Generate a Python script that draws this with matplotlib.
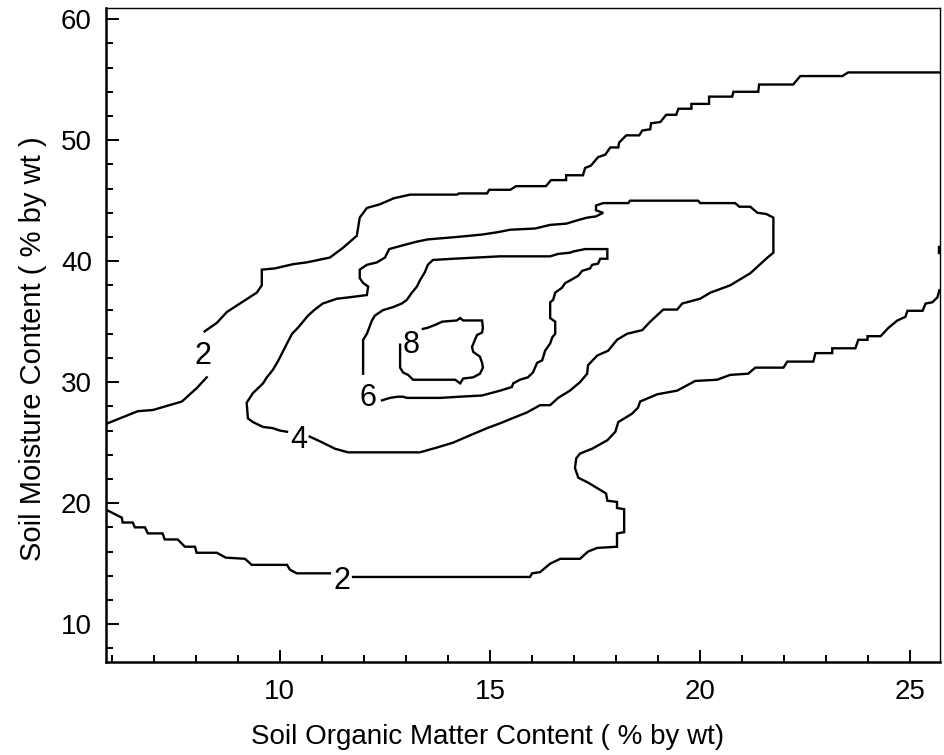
import numpy as np
import matplotlib.pyplot as plt
from matplotlib.ticker import MultipleLocator

plt.rcParams['font.family'] = ['Liberation Sans', 'DejaVu Sans']

# contour level 2, upper branch, left of the label
c2a_x = [5.9, 6.62, 6.98, 7.67, 8.02, 8.26]
c2a_y = [26.6, 27.6, 27.7, 28.4, 29.5, 30.4]
# contour level 2, upper branch, right of the label
c2b_x = [8.21, 8.5, 8.74, 9.05, 9.45, 9.57, 9.57, 9.88, 10.31, 10.64,
         11.19, 11.5, 11.83, 11.9, 12.07, 12.38, 12.71, 13.1, 14.21, 14.26,
         14.93, 14.98, 15.48, 15.62, 16.33, 16.45, 16.81, 16.81, 17.21, 17.26,
         17.4, 17.57, 17.74, 17.86, 18.05, 18.07, 18.24, 18.55, 18.62, 18.81,
         18.83, 19.05, 19.19, 19.43, 19.48, 19.79, 19.79, 20.21, 20.21, 20.76,
         20.79, 21.38, 21.4, 22.21, 22.38, 23.38, 23.52, 25.71]
c2b_y = [34.2, 34.9, 35.8, 36.5, 37.4, 38.0, 39.3, 39.4, 39.75, 39.9,
         40.3, 41.1, 42.1, 43.6, 44.4, 44.7, 45.2, 45.5, 45.5, 45.6,
         45.6, 45.9, 45.9, 46.2, 46.2, 46.7, 46.7, 47.1, 47.1, 47.7,
         47.9, 48.6, 48.8, 49.4, 49.4, 49.8, 50.4, 50.4, 50.8, 50.9,
         51.4, 51.5, 52.1, 52.1, 52.6, 52.6, 53.0, 53.0, 53.6, 53.6,
         54.0, 54.0, 54.6, 54.6, 55.3, 55.3, 55.6, 55.6]
# contour level 2, lower branch, left of the label
c2c_x = [5.9, 6.24, 6.26, 6.5, 6.55, 6.79, 6.86, 7.21, 7.26, 7.57, 7.74,
         7.98, 8.02, 8.5, 8.71, 9.17, 9.33, 10.17, 10.24, 10.4, 11.19]
c2c_y = [19.4, 18.8, 18.4, 18.4, 18.0, 18.0, 17.5, 17.5, 17.0, 17.0, 16.4,
         16.4, 15.9, 15.9, 15.5, 15.4, 14.9, 14.9, 14.5, 14.2, 14.2]
# contour level 2, lower branch, right of the label
c2d_x = [11.74, 15.95, 16.0, 16.19, 16.43, 16.67, 17.14, 17.33, 17.55, 18.02,
         18.02, 18.19, 18.19, 18.02, 18.02, 17.79, 17.76, 17.57, 17.33, 17.1,
         17.02, 17.05, 17.14, 17.43, 17.79, 17.98, 18.05, 18.38, 18.52, 18.57,
         18.98, 19.45, 19.88, 20.4, 20.71, 21.14, 21.31, 21.98, 22.07, 22.69,
         22.74, 23.14, 23.14, 23.69, 23.76, 23.98, 23.98, 24.29, 24.48, 24.69,
         24.88, 24.93, 25.29, 25.36, 25.52, 25.64, 25.69]
c2d_y = [13.9, 13.9, 14.2, 14.3, 15.0, 15.4, 15.4, 16.0, 16.3, 16.4,
         17.5, 17.6, 19.5, 19.6, 20.1, 20.2, 20.8, 21.2, 21.7, 22.1,
         22.9, 23.7, 24.1, 24.5, 25.2, 25.9, 26.7, 27.4, 27.9, 28.4,
         29.0, 29.3, 30.1, 30.2, 30.6, 30.7, 31.2, 31.2, 31.7, 31.7,
         32.4, 32.4, 32.8, 32.8, 33.5, 33.5, 33.8, 33.8, 34.5, 35.1,
         35.4, 35.9, 35.9, 36.5, 36.6, 37.0, 37.6]
# short piece touching the right edge
c2e_x = [25.67, 25.67]
c2e_y = [40.7, 41.2]

# contour level 4
c4_x = [10.71, 11.02, 11.31, 11.62, 13.33, 13.74, 14.12, 14.52, 14.93, 15.24,
        15.52, 15.88, 16.19, 16.43, 16.62, 16.9, 17.14, 17.31, 17.33, 17.55,
        17.81, 18.02, 18.26, 18.62, 18.81, 19.12, 19.45, 19.57, 20.0, 20.24,
        20.71, 21.19, 21.6, 21.74, 21.74,
        21.57, 21.36, 21.19, 20.93, 20.83, 20.0, 19.95, 18.33, 18.29, 17.69,
        17.52, 17.52, 17.69, 17.52, 17.31, 17.1, 16.81, 16.43, 16.07, 15.48,
        15.19, 14.81, 14.21, 13.52, 13.24, 12.81, 12.6, 12.5, 12.31, 12.07,
        11.9, 11.9, 11.98, 12.1, 12.07, 11.62, 11.36, 11.02, 10.83, 10.67,
        10.43, 10.29, 10.17, 9.95, 9.83, 9.69, 9.6, 9.36, 9.21, 9.24,
        9.36, 9.6, 9.83, 10.0, 10.17]
c4_y = [25.5, 25.0, 24.5, 24.2, 24.2, 24.6, 25.0, 25.6, 26.2, 26.6,
        27.0, 27.5, 28.1, 28.1, 28.7, 29.3, 30.0, 30.7, 31.4, 32.2,
        32.6, 33.5, 34.0, 34.3, 35.0, 36.0, 36.0, 36.5, 36.9, 37.4,
        38.0, 39.0, 40.3, 40.7, 43.6,
        43.9, 44.0, 44.5, 44.5, 44.8, 44.8, 45.0, 45.0, 44.8, 44.8,
        44.6, 44.2, 44.0, 43.7, 43.6, 43.4, 43.1, 43.0, 42.7, 42.6,
        42.4, 42.2, 42.0, 41.8, 41.6, 41.2, 41.0, 40.3, 39.9, 39.7,
        39.3, 38.6, 38.2, 37.9, 37.2, 37.0, 36.9, 36.5, 36.0, 35.5,
        34.5, 34.0, 33.2, 31.7, 31.0, 30.4, 29.9, 29.1, 28.3, 27.0,
        26.7, 26.3, 26.2, 26.0, 25.9]

# contour level 6
c6_x = [11.98, 11.98, 12.07, 12.19, 12.26, 12.45, 12.69, 12.9, 13.02, 13.14,
        13.26, 13.33, 13.45, 13.52, 13.64, 14.12, 15.24, 16.43, 16.62, 16.9,
        16.98, 17.26, 17.79, 17.79, 17.62, 17.57, 17.43, 17.38, 17.19, 17.1,
        16.9, 16.79, 16.71, 16.55, 16.5, 16.43, 16.43, 16.55, 16.55, 16.48,
        16.43, 16.31, 16.24, 16.12, 16.02, 15.9, 15.71, 15.55, 15.52, 15.24,
        14.81, 14.29, 13.81, 13.02, 12.93, 12.81, 12.62, 12.43]
c6_y = [30.7, 33.5, 34.0, 35.1, 35.5, 35.95, 36.2, 36.5, 36.8, 37.4,
        37.9, 38.4, 39.1, 39.7, 40.1, 40.2, 40.4, 40.4, 40.6, 40.7,
        40.8, 41.0, 41.0, 40.2, 40.2, 39.8, 39.7, 39.4, 39.2, 38.8,
        38.4, 38.2, 37.8, 37.4, 36.8, 36.6, 35.3, 35.0, 34.0, 33.7,
        33.2, 32.6, 31.8, 31.6, 30.8, 30.4, 30.2, 29.9, 29.6, 29.3,
        28.9, 28.8, 28.7, 28.7, 28.8, 28.8, 28.7, 28.5]

# contour level 8
c8_x = [13.4, 13.52, 13.74, 13.86, 14.21, 14.29, 14.36, 14.81, 14.83, 14.81,
        14.69, 14.64, 14.57, 14.6, 14.76, 14.81, 14.83, 14.76, 14.6, 14.36,
        14.29, 14.17, 13.17, 13.05, 12.93, 12.86, 12.86]
c8_y = [34.4, 34.5, 34.8, 35.0, 35.1, 35.3, 35.1, 35.1, 34.5, 34.1,
        33.9, 33.5, 32.9, 32.5, 32.1, 31.6, 31.2, 30.7, 30.4, 30.3,
        29.9, 30.2, 30.2, 30.6, 30.8, 31.2, 33.1]

# contour labels
label_text = ['2', '2', '4', '6', '8']
label_x = [8.17, 11.48, 10.45, 12.1, 13.12]
label_y = [32.2, 13.55, 25.2, 28.7, 33.1]

fig = plt.figure(figsize=(9.45, 7.55), dpi=100)
ax = fig.add_axes([0.112, 0.123, 0.883, 0.866])

paths = [(c2a_x, c2a_y), (c2b_x, c2b_y), (c2c_x, c2c_y), (c2d_x, c2d_y),
         (c2e_x, c2e_y), (c4_x, c4_y), (c6_x, c6_y), (c8_x, c8_y)]
for px, py in paths:
    ax.plot(px, py, color='black', lw=1.7, solid_joinstyle='miter')

for t, lx, ly in zip(label_text, label_x, label_y):
    ax.text(lx, ly, t, fontsize=22, ha='center', va='center')

ax.set_xlim(5.86, 25.71)
ax.set_ylim(6.86, 60.9)
ax.xaxis.set_major_locator(MultipleLocator(5))
ax.xaxis.set_minor_locator(MultipleLocator(1))
ax.yaxis.set_major_locator(MultipleLocator(10))
ax.yaxis.set_minor_locator(MultipleLocator(2))
ax.tick_params(which='both', direction='in', top=False, right=False,
               labelsize=20, width=1.4)
ax.tick_params(axis='x', pad=12)
ax.tick_params(axis='y', pad=10)
ax.tick_params(which='major', length=9)
ax.tick_params(which='minor', length=5)

for side in ['left', 'bottom']:
    ax.spines[side].set_linewidth(1.8)
for side in ['top', 'right']:
    ax.spines[side].set_linewidth(1.0)

ax.set_xlabel('Soil Organic Matter Content ( % by wt)', fontsize=20)
ax.set_ylabel('Soil Moisture Content ( % by wt )', fontsize=21)
ax.xaxis.set_label_coords(0.457, -0.095)
ax.yaxis.set_label_coords(-0.07, 0.48)

fig.savefig('out.png', dpi=100)
